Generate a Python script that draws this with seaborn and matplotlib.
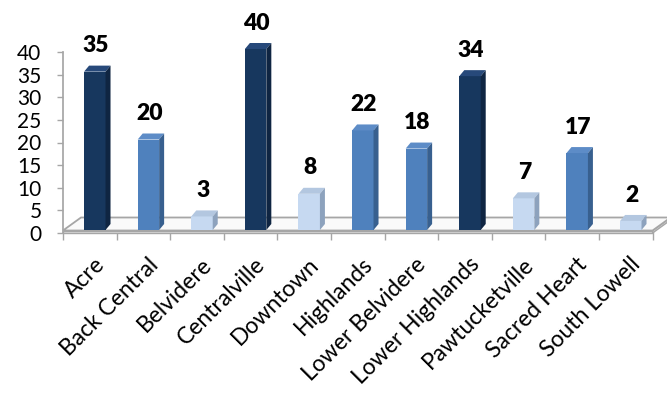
import matplotlib
matplotlib.use("Agg")
import matplotlib.pyplot as plt
import matplotlib.transforms as mtransforms
from matplotlib.patches import Polygon
import pandas as pd
import seaborn as sns

districts = ["Acre", "Back Central", "Belvidere", "Centralville", "Downtown",
             "Highlands", "Lower Belvidere", "Lower Highlands", "Pawtucketville",
             "Sacred Heart", "South Lowell"]
counts = [35, 20, 3, 40, 8, 22, 18, 34, 7, 17, 2]
y_ticks = [0, 5, 10, 15, 20, 25, 30, 35, 40]

# front / top / side shades for the three count bands
shades = {
    "high": ("#17375E", "#27497A", "#0F2542"),
    "mid": ("#4F81BD", "#5D8CC7", "#38608F"),
    "low": ("#C6D9F1", "#B3C7E0", "#8DA2BD"),
}


def band(v):
    if v >= 30:
        return "high"
    if v >= 10:
        return "mid"
    return "low"


df = pd.DataFrame({"district": districts, "count": counts})
df["band"] = [band(v) for v in counts]

sns.set_theme(style="ticks")
plt.rcParams["font.family"] = ["Lato", "DejaVu Sans"]

W, H, DPI = 667, 393, 100
fig = plt.figure(figsize=(W / DPI, H / DPI), dpi=DPI)
fig.patch.set_facecolor("white")
AX_L, AX_B, AX_W, AX_H = 63, 160, 589.6, 181   # axes box in pixels
ax = fig.add_axes([AX_L / W, AX_B / H, AX_W / W, AX_H / H])
ax.set_facecolor("none")

palette = [shades[b][0] for b in df["band"]]
sns.barplot(data=df, x="district", y="count", hue="district", palette=palette,
            width=0.40, legend=False, saturation=1, ax=ax,
            edgecolor="none", linewidth=0, zorder=3)
bars = list(ax.patches)

n = len(districts)
ax.set_xlim(-0.5, n - 0.5)
ax.set_ylim(0, y_ticks[-1])

# pixel -> data conversions
ux = AX_W / n
uy = AX_H / y_ticks[-1]


def px_x(p):
    return p / ux


def px_y(p):
    return p / uy


GRAY = "#A6A6A6"

# floor slab under the bars
fdx, fdy, thick = px_x(18), px_y(13), px_y(2.5)
x0, x1 = -0.5, n - 0.5
floor_front = Polygon([(x0, 0), (x1, 0), (x1, thick), (x0, thick)],
                      closed=True, facecolor="#E6E6E6", edgecolor=GRAY,
                      lw=1.0, zorder=1, clip_on=False)
floor_side = Polygon([(x1, 0), (x1 + fdx, fdy), (x1 + fdx, fdy + thick), (x1, thick)],
                     closed=True, facecolor="#D9D9D9", edgecolor=GRAY,
                     lw=1.0, zorder=1, clip_on=False)
floor_top = Polygon([(x0, thick), (x1, thick), (x1 + fdx, thick + fdy),
                     (x0 + fdx, thick + fdy)],
                    closed=True, facecolor="#FAFAFA", edgecolor=GRAY,
                    lw=1.3, zorder=1, clip_on=False)
for p in (floor_front, floor_side, floor_top):
    ax.add_patch(p)

# extruded bars: lift onto the floor, then add top and side faces
sx, sy = px_x(5), px_y(3)
bdx, bdy = px_x(5), px_y(6)
for bar, v, b in zip(bars, counts, df["band"]):
    front, top, side = shades[b]
    bar.set_x(bar.get_x() + sx)
    bar.set_y(sy)
    bar.set_clip_on(False)
    xl = bar.get_x()
    xr = xl + bar.get_width()
    yb = sy
    yt = sy + v
    ax.add_patch(Polygon([(xl, yt), (xr, yt), (xr + bdx, yt + bdy), (xl + bdx, yt + bdy)],
                         closed=True, facecolor=top, edgecolor="none",
                         zorder=3, clip_on=False))
    ax.add_patch(Polygon([(xr, yb), (xr + bdx, yb + bdy), (xr + bdx, yt + bdy), (xr, yt)],
                         closed=True, facecolor=side, edgecolor="none",
                         zorder=3, clip_on=False))
    ax.annotate(f"{v}", xy=((xl + xr) / 2 + px_x(1), yt), xytext=(0, 14),
                textcoords="offset points", ha="center", va="baseline",
                fontsize=16.5, fontweight="heavy", color="black",
                annotation_clip=False)

# axes styling
for s in ("top", "right"):
    ax.spines[s].set_visible(False)
ax.spines["left"].set_color(GRAY)
ax.spines["left"].set_zorder(0)
ax.spines["bottom"].set_visible(False)

ax.set_yticks(y_ticks)
ax.set_yticklabels([str(t) for t in y_ticks])
ax.tick_params(axis="y", direction="out", length=4.5, width=1, color=GRAY,
               labelsize=15, pad=11, labelcolor="black")

ax.set_xticks(range(n))
ax.set_xticklabels(districts, rotation=45, ha="right", rotation_mode="anchor")
ax.set_xticks([i - 0.5 for i in range(n + 1)], minor=True)
ax.tick_params(axis="x", which="major", length=0, labelsize=16.5, pad=15,
               labelcolor="black")
ax.tick_params(axis="x", which="minor", direction="out", length=5, width=1,
               color=GRAY)
shift = mtransforms.ScaledTranslation(4 / DPI, 0, fig.dpi_scale_trans)
for lab in ax.get_xticklabels():
    lab.set_transform(lab.get_transform() + shift)

ax.set_xlabel("")
ax.set_ylabel("")

fig.savefig("out.png", dpi=DPI, facecolor="white")
